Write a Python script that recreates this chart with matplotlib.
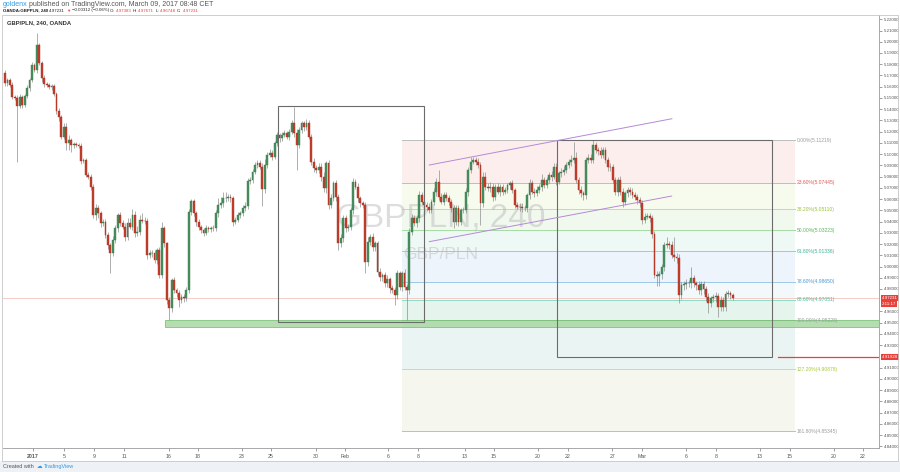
import numpy as np
import matplotlib.pyplot as plt
from matplotlib.patches import Rectangle
import matplotlib.transforms as mtransforms

## GBP/PLN 240 (OANDA) - velas de 4 horas, enero a marzo 2017

plt.rcParams['font.family'] = ['Liberation Sans', 'DejaVu Sans']

# Apertura de la primera vela
primer_open = 5.1725

# Precios de cierre de cada vela
cierres = [
    5.1630, 5.1660, 5.1615, 5.1512, 5.1503, 5.1429, 5.1512, 5.1434, 5.1518, 5.1586,
    5.1660, 5.1793, 5.1749, 5.1972, 5.1814, 5.1675, 5.1624, 5.1615, 5.1595, 5.1607,
    5.1535, 5.1384, 5.1328, 5.1156, 5.1239, 5.1096, 5.1126, 5.1081, 5.1090, 5.1085,
    5.1072, 5.0942, 5.0948, 5.0814, 5.0800, 5.0711, 5.0458, 5.0518, 5.0473, 5.0390,
    5.0399, 5.0280, 5.0191, 5.0123, 5.0236, 5.0340, 5.0458, 5.0390, 5.0355, 5.0266,
    5.0384, 5.0355, 5.0458, 5.0295, 5.0310, 5.0414, 5.0408, 5.0405, 5.0102, 5.0123,
    5.0117, 5.0058, 5.0147, 4.9924, 5.0340, 5.0206, 4.9702, 4.9628, 4.9880, 4.9791,
    4.9761, 4.9702, 4.9732, 4.9717, 4.9791, 5.0488,
    5.0583, 5.0473, 5.0399, 5.0355, 5.0325, 5.0301, 5.0340, 5.0335, 5.0346, 5.0340,
    5.0473, 5.0547, 5.0562, 5.0607, 5.0612, 5.0616, 5.0607,
    5.0399, 5.0414, 5.0458, 5.0473, 5.0518, 5.0539, 5.0764, 5.0770, 5.0844, 5.0903,
    5.0924, 5.0889, 5.0687, 5.0903, 5.0992, 5.1013, 5.0978, 5.1096, 5.1170, 5.1141,
    5.1170, 5.1185, 5.1156, 5.1200, 5.1274, 5.1185, 5.1081, 5.1215, 5.1274, 5.1245,
    5.1280, 5.1156, 5.0933, 5.0874, 5.0859, 5.0889, 5.0800, 5.0696, 5.0918,
    5.0547, 5.0607, 5.0740, 5.0622, 5.0206, 5.0251, 5.0429, 5.0340, 5.0355,
    5.0503, 5.0755, 5.0711, 5.0607, 5.0562, 5.0547, 5.0043, 5.0221, 5.0266, 5.0177,
    5.0206, 4.9954, 4.9910, 4.9924, 4.9850, 4.9886, 4.9806, 4.9791, 4.9746, 4.9939,
    4.9821, 4.9939,
    4.9821, 4.9791, 5.0310, 5.0429, 5.0384, 5.0429, 5.0636, 5.0577, 5.0547, 5.0527,
    5.0503, 5.0577, 5.0666, 5.0755, 5.0622, 5.0577, 5.0636, 5.0607, 5.0577, 5.0518,
    5.0399, 5.0518, 5.0399, 5.0503, 5.0503, 5.0666, 5.0859, 5.0933, 5.0948, 5.0933,
    5.0903, 5.0562, 5.0800, 5.0711, 5.0696, 5.0711, 5.0622, 5.0711, 5.0666, 5.0711,
    5.0666, 5.0681, 5.0725, 5.0740, 5.0681, 5.0547, 5.0533, 5.0527, 5.0518, 5.0518,
    5.0636, 5.0746, 5.0666, 5.0651, 5.0681, 5.0711, 5.0770, 5.0725, 5.0770, 5.0814,
    5.0800, 5.0889, 5.0755,
    5.0829, 5.0844, 5.0859, 5.0903, 5.0933, 5.0948, 5.0963, 5.0770, 5.0681, 5.0651,
    5.0636, 5.0948, 5.0963, 5.0948, 5.1081, 5.1037, 5.1031, 5.0992, 5.1037, 5.0948,
    5.0889, 5.0883, 5.0770, 5.0666, 5.0770, 5.0666, 5.0577, 5.0651, 5.0681, 5.0666,
    5.0636, 5.0622, 5.0592, 5.0562, 5.0414, 5.0444, 5.0450, 5.0429, 5.0289,
    4.9924, 4.9915, 4.9933, 4.9999, 5.0191, 5.0200, 5.0191,
    5.0102, 5.0088, 5.0073, 4.9746, 4.9835, 4.9844,
    4.9856, 4.9850, 4.9895, 4.9850, 4.9835, 4.9791, 4.9844, 4.9797,
    4.9732, 4.9678, 4.9717, 4.9726, 4.9737, 4.9642, 4.9702, 4.9642, 4.9755, 4.9761,
    4.9746, 4.97231,
]

# Mechas superiores e inferiores en pips (0.0001)
mecha_sup = [
    25, 20, 15, 30, 15, 20, 25, 15, 20, 25, 20, 30, 15, 103, 20, 15, 25, 15, 20, 15,
    20, 15, 25, 20, 40, 40, 45, 20, 15, 20, 15, 25, 20, 15, 30, 20, 25, 40, 30, 20,
    25, 20, 30, 20, 35, 25, 20, 30, 25, 30, 50, 45, 55, 40, 50, 45, 60, 30, 25, 20,
    25, 30, 20, 25, 60, 20, 15, 30, 20, 25, 20, 30, 25, 20, 30, 25, 20, 15, 25, 20,
    15, 20, 25, 20, 15, 25, 30, 60, 55, 60, 50, 25, 30, 20, 25, 30, 20, 25, 35, 20,
    25, 20, 30, 25, 20, 30, 50, 25, 30, 20, 25, 30, 20, 25, 30, 20, 25, 30, 149, 35,
    30, 25, 20, 30, 25, 20, 30, 25, 35, 30, 40, 25, 30, 35, 25, 30, 25, 35, 30, 25,
    20, 30, 30, 25, 30, 20, 25, 30, 40, 25, 30, 20, 25, 30, 20, 25, 35, 20, 30, 25,
    30, 25, 20, 35, 25, 30, 40, 30, 25, 35, 30, 25, 30, 40, 25, 30, 35, 104, 30, 25,
    30, 25, 20, 30, 25, 30, 20, 25, 35, 30, 40, 25, 30, 35, 30, 45, 40, 35, 40, 30,
    25, 30, 20, 25, 30, 20, 25, 30, 20, 25, 30, 35, 25, 20, 30, 25, 30, 35, 25, 50,
    30, 25, 30, 40, 35, 30, 25, 30, 35, 30, 25, 40, 147, 55, 30, 35, 25, 30, 35, 40,
    41, 30, 25, 35, 30, 25, 30, 35, 25, 30, 25, 35, 30, 25, 30, 25, 35, 30, 25, 30,
    30, 35, 25, 30, 25, 30, 35, 30, 25, 30, 66, 25, 35, 164, 30, 40, 25, 30, 35, 25,
    104, 30, 25, 35, 30, 25, 30, 35, 25, 30, 35, 25, 40, 30, 25, 30, 20, 15,
]
mecha_inf = [
    20, 25, 15, 20, 25, 496, 20, 25, 15, 20, 25, 20, 15, 25, 20, 30, 25, 20, 15, 25,
    20, 25, 30, 20, 25, 60, 55, 60, 30, 25, 20, 30, 25, 20, 25, 30, 25, 40, 45, 40,
    30, 25, 35, 184, 30, 25, 35, 30, 25, 35, 30, 25, 30, 35, 25, 30, 25, 30, 35, 25,
    30, 25, 35, 30, 25, 30, 35, 105, 30, 25, 30, 60, 25, 30, 20, 25, 30, 25, 35, 30,
    25, 30, 20, 25, 30, 25, 20, 30, 25, 35, 30, 25, 30, 35, 25, 20, 30, 25, 20, 25,
    30, 25, 20, 30, 25, 150, 30, 25, 20, 30, 25, 20, 30, 25, 20, 25, 30, 25, 35, 220,
    30, 25, 35, 30, 25, 30, 35, 30, 25, 35, 30, 40, 35, 30, 25, 35, 60, 30, 35, 30,
    25, 30, 35, 25, 30, 35, 25, 100, 40, 30, 35, 40, 30, 35, 40, 30, 35, 45, 30, 90,
    35, 30, 40, 30, 268, 35, 30, 25, 35, 30, 25, 30, 35, 30, 25, 30, 35, 30, 25, 30,
    25, 30, 35, 60, 30, 35, 30, 25, 30, 35, 30, 25, 30, 25, 190, 35, 30, 25, 30, 35,
    30, 25, 35, 30, 25, 30, 35, 25, 30, 25, 35, 30, 25, 30, 35, 25, 30, 25, 30, 35,
    30, 25, 30, 35, 25, 30, 25, 35, 30, 25, 30, 35, 25, 30, 35, 30, 40, 35, 30, 25,
    30, 25, 35, 30, 25, 30, 35, 30, 25, 30, 35, 30, 45, 30, 35, 30, 25, 30, 35, 30,
    35, 30, 25, 30, 35, 30, 90, 90, 40, 35, 30, 35, 30, 35, 40, 75, 35, 40, 45, 35,
    40, 35, 40, 35, 45, 40, 35, 95, 40, 35, 40, 90, 35, 40, 35, 30, 35, 25,
]

# Eje de tiempo (posicion en numero de vela)
fechas_pos = [11.4, 24.1, 36.3, 48.6, 66.9, 78.7, 96.7, 108.5, 126.9, 138.7, 156.3, 168.5,
              187.7, 199.5, 217.5, 229.7, 247.7, 259.9, 277.9, 290.1, 308.0, 320.3, 338.2, 350.1]
fechas_txt = ["2017", "5", "9", "11", "16", "18", "23", "25", "30", "Feb", "6", "8",
              "13", "15", "20", "22", "27", "Mar", "6", "8", "13", "15", "20", "22"]

# Retroceso de Fibonacci
fib_pct = ["0.00%", "23.60%", "38.20%", "50.00%", "61.80%", "78.60%", "88.60%",
           "100.00%", "127.20%", "161.80%"]
fib_precio = [5.11219, 5.07445, 5.05110, 5.03223, 5.01336, 4.98650, 4.97051,
              4.95228, 4.90878, 4.85345]
fib_x = [162.0, 322.3]

# Dibujos
caja1 = [111.4, 170.9, 4.9506, 5.1428]   # x0, x1, y0, y1
caja2 = [225.2, 312.9, 4.9195, 5.1126]
zona_verde = [65.3, 356.6, 4.9461, 4.9523]
canal_sup = [[173.1, 272.1], [5.0903, 5.1315]]
canal_inf = [[173.1, 272.0], [5.0221, 5.0627]]
linea_roja = [315.4, 4.91928]
precio_actual = 4.97231

# ------------------------------------------------------------------
W, H = 900, 472
fig = plt.figure(figsize=(W / 100, H / 100), dpi=100)
fig.patch.set_facecolor('white')

def fx(px):
    return px / W

def fy(py):
    return 1 - py / H

ax = fig.add_axes([fx(3), fy(448), (879 - 3) / W, (448 - 15) / H])
ax.set_xlim(-0.82, 356.6)
ax.set_ylim(4.8385, 5.2238)
ax.set_facecolor('white')

# Bandas de Fibonacci
fondo_fib = ['#fdeeee', '#f7fbee', '#f1f9ee', '#eef8f4', '#eef4fb', '#f3f8fb',
             '#e6f4ee', '#eaf5f3', '#f5f6ee']
linea_fib = ['#bdbdbd', '#f0a8a8', '#c5e08a', '#a5dca5', '#8fd6c4', '#9cc8e8',
             '#8fdcc8', '#bdbdbd', '#cde08a', '#bdbdbd']
texto_fib = ['#9e9e9e', '#e05a5a', '#9cc23c', '#5cb85c', '#3fb59a', '#4a9ad4',
             '#3fc0a0', '#9e9e9e', '#a8c83c', '#9e9e9e']
for i in range(len(fib_precio) - 1):
    ax.fill_between(fib_x, fib_precio[i + 1], fib_precio[i], color=fondo_fib[i],
                    lw=0, zorder=1)
for i, p in enumerate(fib_precio):
    ax.plot(fib_x, [p, p], color=linea_fib[i], lw=0.7, zorder=2)
    ax.text(fib_x[1] + 0.8, p, f"{fib_pct[i]}({p:.5f})", fontsize=3.6,
            color=texto_fib[i], va='center', ha='left', zorder=6)

# Marca de agua (sobre las bandas, debajo de las velas)
ax.text(0.5, 0.531, "GBPPLN, 240", transform=ax.transAxes, ha='center', va='center',
        fontsize=24, color='#bdbdbd', alpha=0.5, zorder=2.5)
ax.text(0.5, 0.446, "GBP/PLN", transform=ax.transAxes, ha='center', va='center',
        fontsize=12.5, color='#bdbdbd', alpha=0.5, zorder=2.5)

# Zona verde de soporte
ax.add_patch(Rectangle((zona_verde[0], zona_verde[2]), zona_verde[1] - zona_verde[0],
                       zona_verde[3] - zona_verde[2], facecolor='#a9d8a4',
                       edgecolor='#6cbf6a', lw=0.6, alpha=0.85, zorder=2))

# Linea de precio actual
ax.axhline(precio_actual, color='#f2c4bb', lw=0.6, zorder=1.5)

# Velas
n = len(cierres)
x = np.arange(n)
c = np.array(cierres)
o = np.array([primer_open] + cierres[:-1])
hi = np.maximum(o, c) + np.array(mecha_sup) / 1e4
lo = np.minimum(o, c) - np.array(mecha_inf) / 1e4
sube = c >= o
ax.vlines(x, lo, hi, color='#8e8e8e', lw=0.5, zorder=3)
alto = np.maximum(np.abs(c - o), 0.0004)
ax.bar(x, alto, bottom=np.minimum(o, c), width=0.75,
       color=np.where(sube, '#4a8f5f', '#c43d2c'),
       edgecolor=np.where(sube, '#357a4a', '#a83222'), linewidth=0.3, zorder=4)

# Cajas
for caja in (caja1, caja2):
    ax.add_patch(Rectangle((caja[0], caja[2]), caja[1] - caja[0], caja[3] - caja[2],
                           fill=False, edgecolor='#6b6b6b', lw=0.8, zorder=5))

# Canal
ax.plot(canal_sup[0], canal_sup[1], color='#b58ad6', lw=0.7, zorder=5)
ax.plot(canal_inf[0], canal_inf[1], color='#b58ad6', lw=0.7, zorder=5)

# Linea roja horizontal
ax.plot([linea_roja[0], 356.6], [linea_roja[1]] * 2, color='#e8413a', lw=0.9, zorder=5)

# Leyenda del panel
ax.text(0.004, 0.983, "GBP/PLN, 240, OANDA", transform=ax.transAxes,
        fontsize=4.2, color='#333333', va='center', ha='left', fontweight='bold')

# Ejes
ax.yaxis.tick_right()
yt = [round(v, 2) for v in np.arange(4.84, 5.2201, 0.01)]
yt = [v for v in yt if abs(v - 4.97) > 0.001 and abs(v - 4.92) > 0.001]
ax.set_yticks(yt)
ax.set_yticklabels([f"{v:.5f}" for v in yt])
ax.tick_params(axis='y', length=2, width=0.4, pad=1.2, labelsize=3.2,
               colors='#555555')
ax.set_xticks(fechas_pos)
ax.set_xticklabels(fechas_txt)
ax.tick_params(axis='x', length=2, width=0.4, pad=2.2, labelsize=3.8, colors='#555555')
ax.get_xticklabels()[0].set_fontweight('bold')
for lado in ('top', 'left'):
    ax.spines[lado].set_visible(False)
for lado in ('right', 'bottom'):
    ax.spines[lado].set_color('#9a9a9a')
    ax.spines[lado].set_linewidth(0.6)

# Etiquetas de precio en el eje
tr = mtransforms.blended_transform_factory(ax.transAxes, ax.transData)
for txt, yv in (("4.97231", precio_actual), ("2:11:17", 4.9666), ("4.91928", linea_roja[1])):
    ax.text(1.003, yv, txt, transform=tr, fontsize=3.2, color='white', va='center',
            ha='left', bbox=dict(boxstyle='square,pad=0.25', fc='#e8413a', ec='none'),
            zorder=7, clip_on=False)

# Marco general y pie
fig.add_artist(Rectangle((fx(2), fy(461)), 896 / W, (461 - 15) / H, fill=False,
                         ec='#c6c6c6', lw=0.6, transform=fig.transFigure))
fig.add_artist(Rectangle((0, 0), 1, fy(461), fc='#eef2f6', ec='none',
                         transform=fig.transFigure, zorder=-1))

renderer = fig.canvas.get_renderer()

def linea_texto(x0, py, partes, size, gap=1.2):
    """Escribe trozos de texto uno tras otro sobre la misma linea."""
    xp = x0
    for txt, col, peso in partes:
        t = fig.text(fx(xp), fy(py), txt, fontsize=size, color=col, fontweight=peso,
                     va='center', ha='left')
        xp += t.get_window_extent(renderer).width + gap

linea_texto(3, 466.5, [("Created with", '#555555', 'normal'),
                       ("\u2601", '#2f9be8', 'normal'),
                       ("TradingView", '#2f9be8', 'normal')], 4.0, gap=2.5)

# Encabezado
linea_texto(3, 4.5, [("goldenx", '#2f9be8', 'normal'),
                     ("published on TradingView.com, March 09, 2017 08:48 CET", '#555555', 'normal')],
            5.0, gap=1.4)
linea_texto(3, 10.5, [("OANDA:GBPPLN, 240", '#222222', 'bold'),
                      ("4.97231", '#222222', 'normal'),
                      ("\u25bc", '#e8413a', 'normal'),
                      ("\u22120.00312 (\u22120.06%)", '#222222', 'normal'),
                      ("O:", '#222222', 'normal'), ("4.97383", '#e8413a', 'normal'),
                      ("H:", '#222222', 'normal'), ("4.97671", '#e8413a', 'normal'),
                      ("L:", '#222222', 'normal'), ("4.96748", '#e8413a', 'normal'),
                      ("C:", '#222222', 'normal'), ("4.97231", '#e8413a', 'normal')],
            3.2, gap=1.1)

fig.savefig("out.png", dpi=100)
